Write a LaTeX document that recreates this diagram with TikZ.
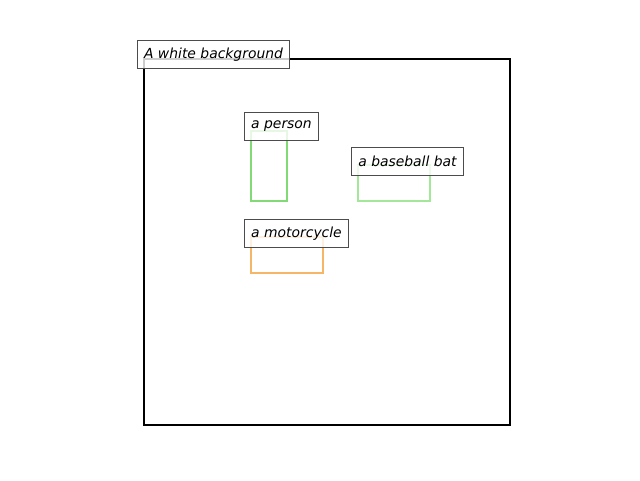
\documentclass[tikz,border=0pt]{standalone}
\usepackage{fontspec}
\setmainfont{DejaVu Sans}
\begin{document}
\begin{tikzpicture}[x=1pt,y=-1pt,
  lbl/.style={draw=black!70,fill=white,fill opacity=0.8,text opacity=1,line width=1pt,
    anchor=north west,inner sep=0pt,minimum height=28pt,
    font=\fontsize{13.9}{16}\selectfont\itshape},
  bbox/.style={line width=2pt}]
\useasboundingbox (0,0) rectangle (640,480);
\definecolor{pgreen}{RGB}{130,218,118}
\definecolor{bgreen}{RGB}{162,232,152}
\definecolor{morange}{RGB}{245,182,104}
\draw[line width=2pt] (144,59) rectangle (510,425);
\draw[bbox,pgreen] (251,131) rectangle (287,201);
\draw[bbox,bgreen] (358,165) rectangle (430,201);
\draw[bbox,morange] (251,237) rectangle (323,273);
\node[lbl,minimum width=152pt] (bg) at (137,40) {A white background};
\node[lbl,minimum width=74pt] (person) at (244,112) {a person};
\node[lbl,minimum width=112pt] (bat) at (351,147) {a baseball bat};
\node[lbl,minimum width=104pt] (moto) at (244,219) {a motorcycle};
\end{tikzpicture}
\end{document}
